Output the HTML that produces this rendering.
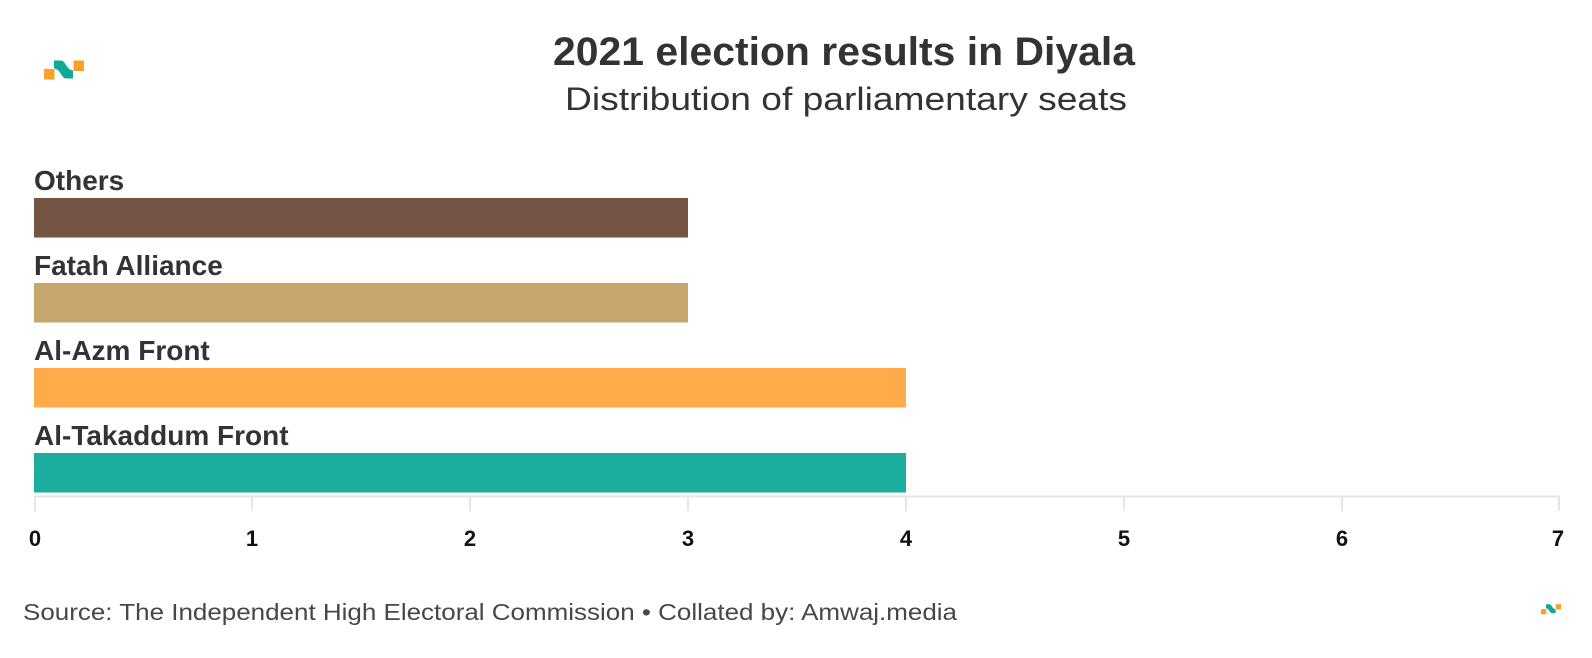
<!DOCTYPE html>
<html>
<head>
<meta charset="utf-8">
<style>
  html, body { margin: 0; padding: 0; background: #ffffff; }
  svg { display: block; }
  text { font-family: "Liberation Sans", "DejaVu Sans", sans-serif; }
</style>
</head>
<body>
<svg width="1592" height="658" viewBox="0 0 1592 658" xmlns="http://www.w3.org/2000/svg">
  <rect x="0" y="0" width="1592" height="658" fill="#ffffff"/>

  <!-- Logo top-left -->
  <g>
    <rect x="44" y="69" width="10.5" height="10.5" fill="#FDA02A"/>
    <path d="M54,60.5 L61,60.5 C65.5,60.5 66.5,70 73,70.5 L73,78.5 L66,78.5 C61.5,78.5 60.5,69 54,68.5 Z" fill="#12A896"/>
    <rect x="73.5" y="60.5" width="10.5" height="10.5" fill="#FDA02A"/>
  </g>

  <!-- Title -->
  <text x="553" y="65" font-size="40" font-weight="bold" fill="#333333" textLength="582" lengthAdjust="spacingAndGlyphs">2021 election results in Diyala</text>
  <text x="565" y="110" font-size="32" fill="#333333" textLength="562" lengthAdjust="spacingAndGlyphs">Distribution of parliamentary seats</text>

  <!-- Bar labels -->
  <text x="34" y="190" font-size="28" font-weight="bold" fill="#333333">Others</text>
  <text x="34" y="275" font-size="28" font-weight="bold" fill="#333333">Fatah Alliance</text>
  <text x="34" y="360" font-size="28" font-weight="bold" fill="#333333">Al-Azm Front</text>
  <text x="34" y="445" font-size="28" font-weight="bold" fill="#333333">Al-Takaddum Front</text>

  <!-- Bars -->
  <rect x="34" y="198" width="654" height="39.5" fill="#745443"/>
  <rect x="34" y="283" width="654" height="39.5" fill="#C6A66D"/>
  <rect x="34" y="368" width="872" height="39.5" fill="#FFAB49"/>
  <rect x="34" y="453" width="872" height="39.5" fill="#1BAE9F"/>

  <!-- Axis -->
  <line x1="34" y1="496.5" x2="1560" y2="496.5" stroke="#e6e6e6" stroke-width="2"/>
  <g stroke="#e6e6e6" stroke-width="2">
    <line x1="35" y1="496" x2="35" y2="511"/>
    <line x1="252" y1="496" x2="252" y2="511"/>
    <line x1="470" y1="496" x2="470" y2="511"/>
    <line x1="688" y1="496" x2="688" y2="511"/>
    <line x1="906" y1="496" x2="906" y2="511"/>
    <line x1="1124" y1="496" x2="1124" y2="511"/>
    <line x1="1342" y1="496" x2="1342" y2="511"/>
    <line x1="1559" y1="496" x2="1559" y2="511"/>
  </g>
  <g font-size="22" font-weight="bold" fill="#111111" text-anchor="middle">
    <text x="35" y="546">0</text>
    <text x="252" y="546">1</text>
    <text x="470" y="546">2</text>
    <text x="688" y="546">3</text>
    <text x="906" y="546">4</text>
    <text x="1124" y="546">5</text>
    <text x="1342" y="546">6</text>
    <text x="1558" y="546">7</text>
  </g>

  <!-- Source -->
  <text x="23" y="620" font-size="23" fill="#474747" textLength="934" lengthAdjust="spacingAndGlyphs">Source: The Independent High Electoral Commission • Collated by: Amwaj.media</text>

  <!-- Logo bottom-right -->
  <g>
    <rect x="1541" y="609" width="5.2" height="5.2" fill="#FDA02A"/>
    <path d="M1546,604.2 L1549.5,604.2 C1551.8,604.2 1552.3,609 1555.6,609.2 L1555.6,613.2 L1552,613.2 C1549.8,613.2 1549.3,608.5 1546,608.2 Z" fill="#12A896"/>
    <rect x="1555.8" y="604.2" width="5.2" height="5.2" fill="#FDA02A"/>
  </g>
</svg>
</body>
</html>
